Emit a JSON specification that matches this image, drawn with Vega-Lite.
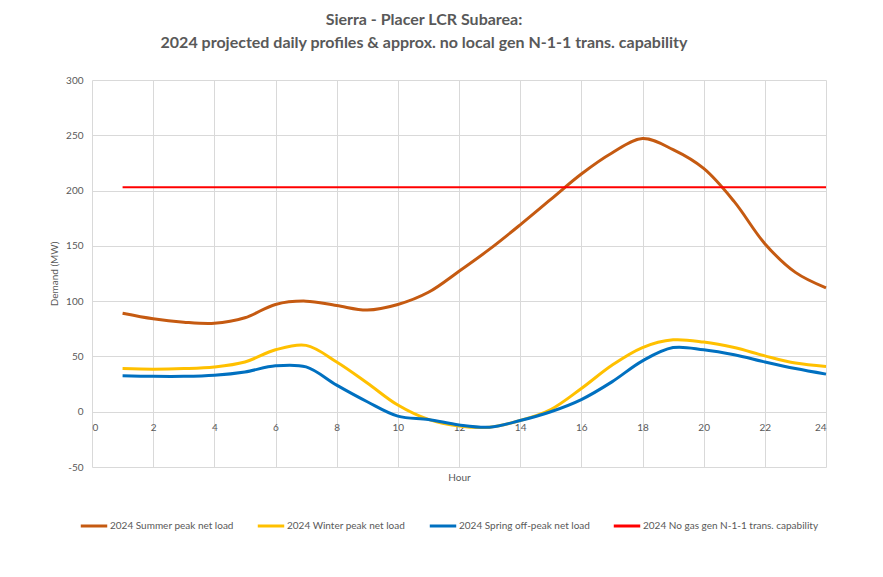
{
  "$schema": "https://vega.github.io/schema/vega-lite/v6.json",
  "width": 734,
  "height": 387,
  "autosize": "none",
  "padding": {"left": 92, "top": 80, "right": 57, "bottom": 110},
  "background": "white",
  "title": {
    "text": ["Sierra - Placer LCR Subarea:", "2024 projected daily profiles & approx. no local gen N-1-1 trans. capability"],
    "font": "Lato",
    "fontSize": 16,
    "fontWeight": "bold",
    "color": "#595959",
    "anchor": "middle",
    "dx": -35,
    "offset": 24,
    "lineHeight": 23
  },
  "config": {
    "view": {"stroke": null},
    "axis": {
      "labelFont": "Lato",
      "labelFontSize": 10,
      "labelColor": "#595959",
      "titleFont": "Lato",
      "titleFontSize": 10,
      "titleFontWeight": "normal",
      "titleColor": "#595959",
      "gridColor": "#d9d9d9",
      "gridWidth": 1,
      "domain": false,
      "ticks": false
    },
    "legend": {
      "labelFont": "Lato",
      "labelFontSize": 10,
      "labelColor": "#595959"
    }
  },
  "data": {
    "values": [
      {"hour": 1, "series": "2024 Summer peak net load", "value": 89},
      {"hour": 2, "series": "2024 Summer peak net load", "value": 84},
      {"hour": 3, "series": "2024 Summer peak net load", "value": 81},
      {"hour": 4, "series": "2024 Summer peak net load", "value": 80},
      {"hour": 5, "series": "2024 Summer peak net load", "value": 85},
      {"hour": 6, "series": "2024 Summer peak net load", "value": 97},
      {"hour": 7, "series": "2024 Summer peak net load", "value": 100},
      {"hour": 8, "series": "2024 Summer peak net load", "value": 96},
      {"hour": 9, "series": "2024 Summer peak net load", "value": 92},
      {"hour": 10, "series": "2024 Summer peak net load", "value": 97},
      {"hour": 11, "series": "2024 Summer peak net load", "value": 108},
      {"hour": 12, "series": "2024 Summer peak net load", "value": 127},
      {"hour": 13, "series": "2024 Summer peak net load", "value": 147},
      {"hour": 14, "series": "2024 Summer peak net load", "value": 169},
      {"hour": 15, "series": "2024 Summer peak net load", "value": 192},
      {"hour": 16, "series": "2024 Summer peak net load", "value": 215},
      {"hour": 17, "series": "2024 Summer peak net load", "value": 234},
      {"hour": 18, "series": "2024 Summer peak net load", "value": 247},
      {"hour": 19, "series": "2024 Summer peak net load", "value": 237},
      {"hour": 20, "series": "2024 Summer peak net load", "value": 220},
      {"hour": 21, "series": "2024 Summer peak net load", "value": 190},
      {"hour": 22, "series": "2024 Summer peak net load", "value": 152},
      {"hour": 23, "series": "2024 Summer peak net load", "value": 126},
      {"hour": 24, "series": "2024 Summer peak net load", "value": 112},
      {"hour": 1, "series": "2024 Winter peak net load", "value": 39},
      {"hour": 2, "series": "2024 Winter peak net load", "value": 38.5},
      {"hour": 3, "series": "2024 Winter peak net load", "value": 39},
      {"hour": 4, "series": "2024 Winter peak net load", "value": 40.5},
      {"hour": 5, "series": "2024 Winter peak net load", "value": 45},
      {"hour": 6, "series": "2024 Winter peak net load", "value": 56},
      {"hour": 7, "series": "2024 Winter peak net load", "value": 60},
      {"hour": 8, "series": "2024 Winter peak net load", "value": 45},
      {"hour": 9, "series": "2024 Winter peak net load", "value": 26},
      {"hour": 10, "series": "2024 Winter peak net load", "value": 6},
      {"hour": 11, "series": "2024 Winter peak net load", "value": -7},
      {"hour": 12, "series": "2024 Winter peak net load", "value": -13},
      {"hour": 13, "series": "2024 Winter peak net load", "value": -14},
      {"hour": 14, "series": "2024 Winter peak net load", "value": -8},
      {"hour": 15, "series": "2024 Winter peak net load", "value": 2},
      {"hour": 16, "series": "2024 Winter peak net load", "value": 21},
      {"hour": 17, "series": "2024 Winter peak net load", "value": 42},
      {"hour": 18, "series": "2024 Winter peak net load", "value": 58},
      {"hour": 19, "series": "2024 Winter peak net load", "value": 65},
      {"hour": 20, "series": "2024 Winter peak net load", "value": 63},
      {"hour": 21, "series": "2024 Winter peak net load", "value": 58},
      {"hour": 22, "series": "2024 Winter peak net load", "value": 50.5},
      {"hour": 23, "series": "2024 Winter peak net load", "value": 44},
      {"hour": 24, "series": "2024 Winter peak net load", "value": 41},
      {"hour": 1, "series": "2024 Spring off-peak net load", "value": 32.5},
      {"hour": 2, "series": "2024 Spring off-peak net load", "value": 32},
      {"hour": 3, "series": "2024 Spring off-peak net load", "value": 32},
      {"hour": 4, "series": "2024 Spring off-peak net load", "value": 33},
      {"hour": 5, "series": "2024 Spring off-peak net load", "value": 36},
      {"hour": 6, "series": "2024 Spring off-peak net load", "value": 41.5},
      {"hour": 7, "series": "2024 Spring off-peak net load", "value": 40.5},
      {"hour": 8, "series": "2024 Spring off-peak net load", "value": 24},
      {"hour": 9, "series": "2024 Spring off-peak net load", "value": 9},
      {"hour": 10, "series": "2024 Spring off-peak net load", "value": -4},
      {"hour": 11, "series": "2024 Spring off-peak net load", "value": -7},
      {"hour": 12, "series": "2024 Spring off-peak net load", "value": -12},
      {"hour": 13, "series": "2024 Spring off-peak net load", "value": -14},
      {"hour": 14, "series": "2024 Spring off-peak net load", "value": -8},
      {"hour": 15, "series": "2024 Spring off-peak net load", "value": 0},
      {"hour": 16, "series": "2024 Spring off-peak net load", "value": 11},
      {"hour": 17, "series": "2024 Spring off-peak net load", "value": 27},
      {"hour": 18, "series": "2024 Spring off-peak net load", "value": 46},
      {"hour": 19, "series": "2024 Spring off-peak net load", "value": 58},
      {"hour": 20, "series": "2024 Spring off-peak net load", "value": 56},
      {"hour": 21, "series": "2024 Spring off-peak net load", "value": 51.5},
      {"hour": 22, "series": "2024 Spring off-peak net load", "value": 45},
      {"hour": 23, "series": "2024 Spring off-peak net load", "value": 39},
      {"hour": 24, "series": "2024 Spring off-peak net load", "value": 34},
      {"hour": 1, "series": "2024 No gas gen N-1-1 trans. capability", "value": 203},
      {"hour": 24, "series": "2024 No gas gen N-1-1 trans. capability", "value": 203}
    ]
  },
  "encoding": {
    "x": {
      "field": "hour",
      "type": "quantitative",
      "scale": {"domain": [0, 24], "nice": false, "zero": false},
      "axis": {
        "values": [0, 2, 4, 6, 8, 10, 12, 14, 16, 18, 20, 22, 24],
        "grid": true,
        "offset": -55,
        "labelPadding": 10,
        "title": "Hour",
        "titlePadding": 40
      }
    },
    "y": {
      "field": "value",
      "type": "quantitative",
      "scale": {"domain": [-50, 300], "nice": false, "zero": false},
      "axis": {
        "values": [-50, 0, 50, 100, 150, 200, 250, 300],
        "labelExpr": "'' + datum.value",
        "grid": true,
        "labelPadding": 9,
        "title": "Demand (MW)",
        "titlePadding": 6
      }
    },
    "color": {
      "field": "series",
      "type": "nominal",
      "sort": null,
      "scale": {
        "domain": ["2024 Summer peak net load", "2024 Winter peak net load", "2024 Spring off-peak net load", "2024 No gas gen N-1-1 trans. capability"],
        "range": ["#C55A11", "#FFC000", "#0070C0", "#FF0000"]
      },
      "legend": {
        "title": null,
        "orient": "none",
        "legendX": -13,
        "legendY": 431,
        "direction": "horizontal",
        "symbolType": "stroke",
        "symbolSize": 700,
        "symbolStrokeWidth": 3,
        "columnPadding": 17,
        "labelOffset": 1,
        "labelLimit": 400
      }
    }
  },
  "layer": [
    {
      "transform": [{"filter": "datum.series !== '2024 No gas gen N-1-1 trans. capability'"}],
      "mark": {"type": "line", "interpolate": "catmull-rom", "strokeWidth": 3}
    },
    {
      "transform": [{"filter": "datum.series === '2024 No gas gen N-1-1 trans. capability'"}],
      "mark": {"type": "line", "strokeWidth": 2}
    }
  ]
}
